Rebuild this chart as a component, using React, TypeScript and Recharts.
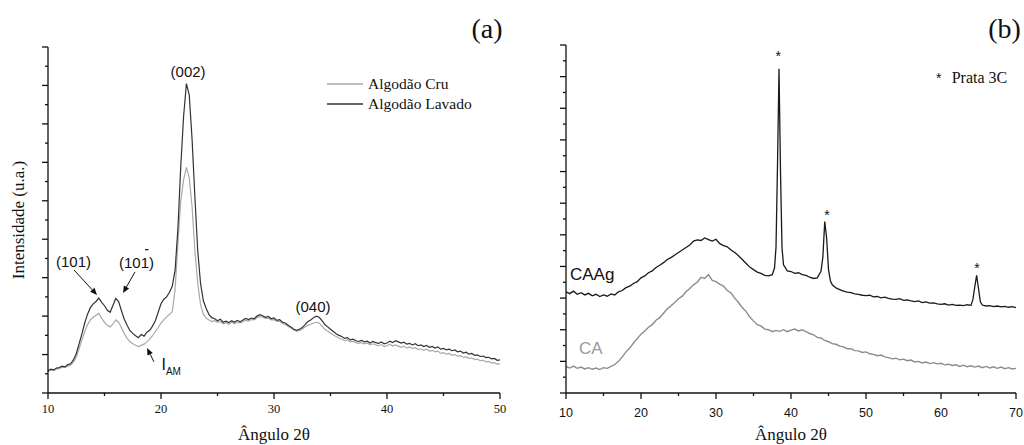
import React from 'react';
import { LineChart, Line, XAxis, YAxis, Legend, ReferenceDot, ReferenceLine } from 'recharts';

const SERIF = '"Liberation Serif", "Times New Roman", Times, serif';
const SANS = '"Liberation Sans", Arial, Helvetica, sans-serif';
const AXIS_COLOR = '#111';

// ---------------- Panel (a) ----------------
const angleStartA = 10;
const angleStepA = 0.25;

const cruA = [
  0.56, 0.60, 0.58, 0.62, 0.64, 0.67, 0.66, 0.70,
  0.72, 0.80, 0.93, 1.15, 1.38, 1.60, 1.78, 1.90,
  1.97, 2.02, 2.07, 1.94, 1.84, 1.76, 1.72, 1.80,
  1.90, 1.84, 1.70, 1.55, 1.42, 1.34, 1.28, 1.24,
  1.21, 1.24, 1.27, 1.33, 1.40, 1.49, 1.60, 1.70,
  1.82, 1.90, 1.98, 2.04, 2.12, 2.70, 3.90, 5.00,
  5.55, 5.87, 5.60, 4.85, 3.70, 2.85, 2.30, 2.05,
  1.95, 1.90, 1.86, 1.88, 1.84, 1.86, 1.80, 1.83,
  1.79, 1.84, 1.80, 1.85, 1.82, 1.86, 1.89, 1.87,
  1.91, 1.90, 1.96, 1.99, 1.97, 1.94, 1.95, 1.90,
  1.91, 1.86, 1.87, 1.81, 1.78, 1.73, 1.69, 1.64,
  1.61, 1.63, 1.66, 1.72, 1.76, 1.79, 1.82, 1.84,
  1.82, 1.74, 1.66, 1.61, 1.56, 1.51, 1.47, 1.43,
  1.40, 1.36, 1.38, 1.33, 1.34, 1.31, 1.29, 1.31,
  1.28, 1.30, 1.25, 1.28, 1.25, 1.23, 1.26, 1.21,
  1.23, 1.27, 1.22, 1.25, 1.22, 1.19, 1.22, 1.17,
  1.20, 1.16, 1.18, 1.13, 1.15, 1.11, 1.14, 1.09,
  1.11, 1.07, 1.09, 1.03, 1.05, 1.01, 1.03, 0.98,
  1.00, 0.96, 0.97, 0.93, 0.94, 0.90, 0.91, 0.87,
  0.88, 0.84, 0.85, 0.81, 0.82, 0.78, 0.79, 0.75,
  0.76,
];

const lavadoA = [
  0.58, 0.62, 0.60, 0.65, 0.66, 0.70, 0.68, 0.74,
  0.76, 0.86, 1.02, 1.28, 1.54, 1.82, 2.05, 2.22,
  2.32, 2.38, 2.47, 2.36, 2.27, 2.15, 2.10, 2.28,
  2.46, 2.38, 2.14, 1.92, 1.76, 1.62, 1.55, 1.49,
  1.44, 1.52, 1.48, 1.58, 1.63, 1.74, 1.88, 2.10,
  2.32, 2.44, 2.50, 2.62, 2.78, 3.20, 4.30, 5.90,
  7.20, 8.05, 7.75, 6.60, 5.10, 3.70, 2.85, 2.40,
  2.20, 2.04, 1.96, 1.93, 1.88, 1.92, 1.84, 1.87,
  1.83, 1.88, 1.84, 1.89, 1.85, 1.90, 1.94, 1.91,
  1.95, 1.93, 2.00, 2.04, 2.01, 1.97, 1.99, 1.93,
  1.95, 1.89, 1.91, 1.84, 1.82, 1.76, 1.72, 1.66,
  1.63, 1.66, 1.70, 1.78, 1.86, 1.90, 1.96, 2.00,
  1.97, 1.88, 1.78, 1.72, 1.66, 1.60, 1.54, 1.50,
  1.47, 1.42, 1.44, 1.38, 1.40, 1.36, 1.34, 1.37,
  1.33, 1.35, 1.30, 1.34, 1.31, 1.29, 1.33, 1.28,
  1.30, 1.35, 1.31, 1.36, 1.33, 1.30, 1.32, 1.27,
  1.29, 1.25, 1.28, 1.23, 1.25, 1.21, 1.24, 1.19,
  1.21, 1.17, 1.20, 1.14, 1.16, 1.12, 1.14, 1.10,
  1.12, 1.07, 1.09, 1.04, 1.06, 1.01, 1.03, 0.98,
  0.99, 0.95, 0.96, 0.92, 0.93, 0.89, 0.90, 0.85,
  0.86,
];

const xTicksA = [10, 15, 20, 25, 30, 35, 40, 45, 50];
const xLabelsA = [10, 20, 30, 40, 50];
const yTicksA = [0, 0.5, 1, 1.5, 2, 2.5, 3, 3.5, 4, 4.5, 5, 5.5, 6, 6.5, 7, 7.5, 8, 8.5, 9];

const seriesA = [
  { key: 'cru', name: 'Algodão Cru', color: '#a9a9a9' },
  { key: 'lavado', name: 'Algodão Lavado', color: '#333333' },
];

const peakLabelsA = [
  { x: 22.4, y: 8.36, text: '(002)' },
  { x: 12.26, y: 3.43, text: '(101)' },
  { x: 33.45, y: 2.26, text: '(040)' },
];
const barLabelA = { x: 17.83, y: 3.39, text: '(101)' };
const amorphLabelA = { x: 20.04, y: 0.6, main: 'I', sub: 'AM' };
const arrowsA = [
  { x1: 12.3, y1: 3.2, x2: 14.34, y2: 2.55 },
  { x1: 17.7, y1: 3.15, x2: 16.64, y2: 2.6 },
  { x1: 19.38, y1: 0.81, x2: 18.76, y2: 1.17 },
];

// ---------------- Panel (b) ----------------
const angleStartCA = 10;
const angleStepCA = 0.5;
const caB = [
  0.84, 0.79, 0.85, 0.78, 0.82, 0.76, 0.80, 0.75,
  0.79, 0.74, 0.80, 0.78, 0.84, 0.90, 1.00, 1.14,
  1.30, 1.42, 1.58, 1.72, 1.86, 1.96, 2.08, 2.16,
  2.30, 2.38, 2.52, 2.66, 2.76, 2.86, 2.98, 3.06,
  3.20, 3.30, 3.42, 3.50, 3.66, 3.62, 3.74, 3.56,
  3.52, 3.44, 3.38, 3.24, 3.16, 3.00, 2.86, 2.70,
  2.58, 2.40, 2.28, 2.16, 2.12, 2.02, 2.00, 1.94,
  1.98, 1.95, 2.00, 1.94, 1.99, 2.02, 1.96, 2.00,
  1.94, 1.88, 1.84, 1.76, 1.74, 1.66, 1.62, 1.56,
  1.54, 1.48, 1.46, 1.40, 1.40, 1.34, 1.33, 1.28,
  1.30, 1.24, 1.22, 1.18, 1.20, 1.14, 1.12, 1.08,
  1.10, 1.05, 1.07, 1.02, 1.04, 0.98, 1.00, 0.95,
  0.98, 0.93, 0.96, 0.92, 0.94, 0.89, 0.91, 0.87,
  0.89, 0.84, 0.88, 0.83, 0.86, 0.82, 0.85, 0.80,
  0.84, 0.79, 0.83, 0.78, 0.82, 0.77, 0.80, 0.76,
  0.78,
];

const caagAngles = [
  10, 10.5, 11, 11.5, 12, 12.5, 13, 13.5,
  14, 14.5, 15, 15.5, 16, 16.5, 17, 17.5,
  18, 18.5, 19, 19.5, 20, 20.5, 21, 21.5,
  22, 22.5, 23, 23.5, 24, 24.5, 25, 25.5,
  26, 26.5, 27, 27.5, 28, 28.5, 29, 29.5,
  30, 30.5, 31, 31.5, 32, 32.5, 33, 33.5,
  34, 34.5, 35, 35.5, 36, 36.5, 37, 37.5,
  37.8, 38.0, 38.2, 38.4, 38.6, 38.8, 39.0, 39.5,
  40, 40.5, 41, 41.5, 42, 42.5, 43, 43.5, 44,
  44.25, 44.5, 44.75, 45, 45.25, 45.5,
  46, 46.5, 47, 47.5, 48, 48.5, 49, 49.5, 50,
  50.5, 51, 51.5, 52, 52.5, 53, 53.5, 54, 54.5, 55,
  55.5, 56, 56.5, 57, 57.5, 58, 58.5, 59, 59.5, 60,
  60.5, 61, 61.5, 62, 62.5, 63, 63.5, 64,
  64.25, 64.5, 64.75, 65.0, 65.25,
  65.5, 66, 66.5, 67, 67.5, 68, 68.5, 69, 69.5, 70,
];
const caagB = [
  3.20, 3.14, 3.22, 3.12, 3.17, 3.10, 3.15, 3.07,
  3.12, 3.05, 3.10, 3.06, 3.13, 3.10, 3.20, 3.24,
  3.33, 3.38, 3.46, 3.52, 3.64, 3.70, 3.80, 3.86,
  3.97, 4.04, 4.12, 4.22, 4.28, 4.36, 4.44, 4.52,
  4.60, 4.68, 4.80, 4.84, 4.82, 4.90, 4.85, 4.80,
  4.86, 4.72, 4.66, 4.62, 4.52, 4.44, 4.34, 4.22,
  4.10, 3.98, 3.90, 3.82, 3.78, 3.72, 3.70, 3.74,
  3.95, 4.60, 7.20, 10.25, 7.00, 4.60, 4.05, 3.86,
  3.84, 3.78, 3.80, 3.74, 3.72, 3.66, 3.62, 3.64, 3.85,
  4.30, 5.42, 4.90, 3.90, 3.55, 3.42,
  3.32, 3.27, 3.22, 3.19, 3.17, 3.13, 3.12, 3.09, 3.08,
  3.09, 3.04, 3.05, 3.01, 3.03, 2.99, 2.97, 2.96, 2.98, 2.93,
  2.94, 2.91, 2.89, 2.91, 2.86, 2.88, 2.84, 2.85, 2.82, 2.80,
  2.82, 2.78, 2.80, 2.77, 2.78, 2.76, 2.79, 2.77,
  2.95, 3.35, 3.72, 3.30, 2.88,
  2.78, 2.75, 2.76, 2.73, 2.75, 2.72, 2.74, 2.71, 2.73, 2.70,
];

const xTicksB = [10, 15, 20, 25, 30, 35, 40, 45, 50, 55, 60, 65, 70];
const xLabelsB = [10, 20, 30, 40, 50, 60, 70];
const yTicksB = [0, 0.5, 1, 1.5, 2, 2.5, 3, 3.5, 4, 4.5, 5, 5.5, 6, 6.5, 7, 7.5, 8, 8.5, 9, 9.5, 10, 10.5, 11];

const starsB = [
  { x: 38.3, y: 10.75 },
  { x: 44.8, y: 5.72 },
  { x: 64.8, y: 4.05 },
];
const silverKeyB = { x: 59.69, y: 10.05, text: 'Prata 3C' };
const seriesLabelsB = [
  { x: 10.53, y: 3.73, text: 'CAAg', color: '#111111' },
  { x: 11.73, y: 1.42, text: 'CA', color: '#9a9a9a' },
];

// ---------------- derived tables ----------------
const rowsA = cruA.map((v, i) => ({ angle: angleStartA + i * angleStepA, cru: v, lavado: lavadoA[i] }));
const rowsCA = caB.map((v, i) => ({ angle: angleStartCA + i * angleStepCA, value: v }));
const rowsCAAg = caagAngles.map((a, i) => ({ angle: a, value: caagB[i] }));

// ---------------- renderers ----------------
const yTick = (props: any) => {
  const { x, y, payload } = props;
  const major = Number.isInteger(payload.value);
  const len = major ? 6 : 3;
  return <line x1={x - len} y1={y} x2={x} y2={y} stroke={AXIS_COLOR} strokeWidth={1.3} />;
};

const makeXTick = (labels: number[], font: string, size: number, dy: number) => (props: any) => {
  const { x, y, payload } = props;
  const major = labels.includes(payload.value);
  return (
    <g>
      <line x1={x} y1={y} x2={x} y2={y + (major ? 6 : 3)} stroke={AXIS_COLOR} strokeWidth={1.3} />
      {major && (
        <text x={x} y={y + dy} textAnchor="middle" style={{ fontFamily: font, fontSize: size }} fill="#111">
          {payload.value}
        </text>
      )}
    </g>
  );
};

const arrowShape = (p: any) => {
  const { x1, y1, x2, y2 } = p;
  const ang = Math.atan2(y2 - y1, x2 - x1);
  const head = 7;
  const half = 3;
  const bx = x2 - head * Math.cos(ang);
  const by = y2 - head * Math.sin(ang);
  const px = -Math.sin(ang) * half;
  const py = Math.cos(ang) * half;
  return (
    <g>
      <line x1={x1} y1={y1} x2={bx} y2={by} stroke="#111" strokeWidth={1} />
      <polygon points={`${x2},${y2} ${bx + px},${by + py} ${bx - px},${by - py}`} fill="#111" />
    </g>
  );
};

const centeredText = (text: string, font: string, size: number, color = '#111', anchor = 'middle') => (p: any) => (
  <text x={p.cx} y={p.cy} textAnchor={anchor} dominantBaseline="central" style={{ fontFamily: font, fontSize: size }} fill={color}>
    {text}
  </text>
);

const barredText = (text: string) => (p: any) => (
  <g>
    <text x={p.cx} y={p.cy} textAnchor="middle" dominantBaseline="central" style={{ fontFamily: SANS, fontSize: 15 }} fill="#111">
      {text}
    </text>
    <line x1={p.cx + 8.5} y1={p.cy - 13} x2={p.cx + 12} y2={p.cy - 13} stroke="#111" strokeWidth={1.2} />
  </g>
);

const subscriptText = (main: string, sub: string) => (p: any) => (
  <text x={p.cx} y={p.cy} textAnchor="start" style={{ fontFamily: SANS, fontSize: 16 }} fill="#111">
    {main}
    <tspan style={{ fontSize: 10 }} dy={5.5}>{sub}</tspan>
  </text>
);

const starShape = (p: any) => (
  <text x={p.cx} y={p.cy} dy={8} textAnchor="middle" style={{ fontFamily: SANS, fontSize: 14 }} fill="#111">
    *
  </text>
);

const silverKeyShape = (text: string) => (p: any) => (
  <g>
    <text x={p.cx} y={p.cy} dy={8} textAnchor="middle" style={{ fontFamily: SANS, fontSize: 14 }} fill="#111">*</text>
    <text x={p.cx + 13} y={p.cy + 2.5} dominantBaseline="central" style={{ fontFamily: SERIF, fontSize: 16 }} fill="#111">{text}</text>
  </g>
);

const legendContentA = (props: any) => {
  const items = props.payload || [];
  return (
    <div style={{ fontFamily: SERIF, fontSize: 15.5, color: '#111' }}>
      {items.map((it: any) => (
        <div key={it.value} style={{ display: 'flex', alignItems: 'center', height: 20 }}>
          <svg width={36} height={20} style={{ display: 'block' }}>
            <line x1={0} y1={10} x2={36} y2={10} stroke={it.color} strokeWidth={1.3} />
          </svg>
          <span style={{ marginLeft: 5, whiteSpace: 'nowrap', lineHeight: '20px' }}>{it.value}</span>
        </div>
      ))}
    </div>
  );
};

const xTitle = (y: number) => (p: any) => {
  const vb = p.viewBox || {};
  return (
    <text x={vb.x + vb.width / 2} y={y} textAnchor="middle" style={{ fontFamily: SERIF, fontSize: 17 }} fill="#111">
      Ângulo 2θ
    </text>
  );
};

const yTitleA = (p: any) => {
  const vb = p.viewBox || {};
  const cy = vb.y + vb.height / 2;
  const cx = 18;
  return (
    <text x={cx} y={cy} transform={`rotate(-90 ${cx} ${cy})`} textAnchor="middle" dominantBaseline="central" style={{ fontFamily: SERIF, fontSize: 17 }} fill="#111">
      Intensidade (u.a.)
    </text>
  );
};

export default function App() {
  return (
    <div style={{ position: 'absolute', left: 0, top: 0, width: 1024, height: 445, background: '#fff', overflow: 'hidden' }}>
      <div style={{ position: 'absolute', left: 0, top: 0 }}>
        <LineChart width={512} height={445} data={rowsA} margin={{ top: 47, right: 12, bottom: 22, left: 28 }}>
          <XAxis
            dataKey="angle"
            type="number"
            domain={[10, 50]}
            ticks={xTicksA}
            interval={0}
            height={30}
            tickSize={0}
            tickMargin={0}
            tickLine={false}
            axisLine={{ stroke: AXIS_COLOR, strokeWidth: 1.3 }}
            tick={makeXTick(xLabelsA, SERIF, 12.5, 20)}
            label={{ content: xTitle(440) }}
          />
          <YAxis
            type="number"
            domain={[0, 9]}
            ticks={yTicksA}
            interval={0}
            width={20}
            tickSize={0}
            tickMargin={0}
            tickLine={false}
            axisLine={{ stroke: AXIS_COLOR, strokeWidth: 1.3 }}
            tick={yTick}
            label={{ content: yTitleA }}
          />
          <Legend
            layout="vertical"
            align="center"
            verticalAlign="middle"
            content={legendContentA}
            wrapperStyle={{ left: 327, top: 74, width: 180, height: 40 }}
          />
          {seriesA.map((s) => (
            <Line
              key={s.key}
              dataKey={s.key}
              name={s.name}
              stroke={s.color}
              strokeWidth={1.2}
              dot={false}
              type="linear"
              isAnimationActive={false}
            />
          ))}
          {arrowsA.map((a, i) => (
            <ReferenceLine
              key={`ar${i}`}
              segment={[{ x: a.x1, y: a.y1 }, { x: a.x2, y: a.y2 }]}
              shape={arrowShape}
              ifOverflow="visible"
            />
          ))}
          {peakLabelsA.map((l) => (
            <ReferenceDot key={l.text} x={l.x} y={l.y} r={0} ifOverflow="visible" shape={centeredText(l.text, SANS, 15)} />
          ))}
          <ReferenceDot x={barLabelA.x} y={barLabelA.y} r={0} ifOverflow="visible" shape={barredText(barLabelA.text)} />
          <ReferenceDot x={amorphLabelA.x} y={amorphLabelA.y} r={0} ifOverflow="visible" shape={subscriptText(amorphLabelA.main, amorphLabelA.sub)} />
        </LineChart>
      </div>

      <div style={{ position: 'absolute', left: 512, top: 0 }}>
        <LineChart width={512} height={445} margin={{ top: 45, right: 8, bottom: 22, left: 34 }}>
          <XAxis
            dataKey="angle"
            type="number"
            domain={[10, 70]}
            ticks={xTicksB}
            interval={0}
            height={30}
            tickSize={0}
            tickMargin={0}
            tickLine={false}
            axisLine={{ stroke: AXIS_COLOR, strokeWidth: 1.3 }}
            tick={makeXTick(xLabelsB, SANS, 12.5, 24)}
            label={{ content: xTitle(440) }}
            allowDataOverflow
          />
          <YAxis
            type="number"
            domain={[0, 11]}
            ticks={yTicksB}
            interval={0}
            width={20}
            tickSize={0}
            tickMargin={0}
            tickLine={false}
            axisLine={{ stroke: AXIS_COLOR, strokeWidth: 1.3 }}
            tick={yTick}
            allowDataOverflow
          />
          <Line data={rowsCA} dataKey="value" name="CA" stroke="#8c8c8c" strokeWidth={1.4} dot={false} type="linear" isAnimationActive={false} />
          <Line data={rowsCAAg} dataKey="value" name="CAAg" stroke="#1a1a1a" strokeWidth={1.3} dot={false} type="linear" isAnimationActive={false} />
          {starsB.map((s, i) => (
            <ReferenceDot key={`st${i}`} x={s.x} y={s.y} r={0} ifOverflow="visible" shape={starShape} />
          ))}
          <ReferenceDot x={silverKeyB.x} y={silverKeyB.y} r={0} ifOverflow="visible" shape={silverKeyShape(silverKeyB.text)} />
          {seriesLabelsB.map((l) => (
            <ReferenceDot key={l.text} x={l.x} y={l.y} r={0} ifOverflow="visible" shape={centeredText(l.text, SANS, 17, l.color, 'start')} />
          ))}
        </LineChart>
      </div>

      <svg width={1024} height={445} style={{ position: 'absolute', left: 0, top: 0, pointerEvents: 'none' }}>
        <text x={487} y={38} textAnchor="middle" style={{ fontFamily: SERIF, fontSize: 28 }} fill="#111">(a)</text>
        <text x={1004.5} y={38} textAnchor="middle" style={{ fontFamily: SERIF, fontSize: 28 }} fill="#111">(b)</text>
      </svg>
    </div>
  );
}
